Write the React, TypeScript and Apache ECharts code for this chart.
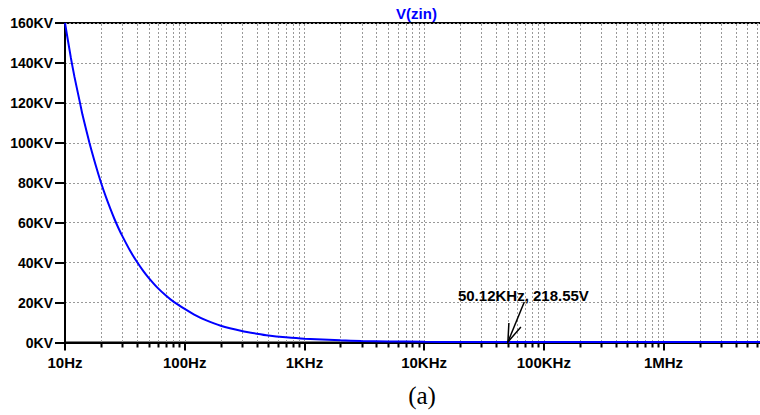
import React, { useEffect, useRef } from "react";
import * as echarts from "echarts";

// Frequency sweep (Hz) and |V(zin)| (V)
const freqs = [10, 11.2, 12, 13.4, 14, 16, 18, 20, 22, 24, 26, 28, 30, 35, 40, 45, 50, 60, 70, 80, 100, 120, 150, 200, 300, 400, 500, 700, 1000, 2000, 3000, 5000, 10000, 20000, 50120, 100000, 1000000, 10000000];
const volts = [160000, 142500, 133000, 119500, 114000, 100000, 89000, 80000, 72800, 66800, 61600, 57200, 53500, 45900, 40300, 35900, 32400, 27100, 23400, 20600, 16800, 14000, 11200, 8400, 5750, 4400, 3500, 2600, 1900, 1100, 800, 550, 350, 260, 218.55, 210, 200, 200];

// Axis ticks
const xTickValues = [10, 100, 1000, 10000, 100000, 1000000, 10000000];
const xTickLabels = ["10Hz", "100Hz", "1KHz", "10KHz", "100KHz", "1MHz", ""];
const yTickValues = [0, 20000, 40000, 60000, 80000, 100000, 120000, 140000, 160000];
const yTickLabels = ["0KV", "20KV", "40KV", "60KV", "80KV", "100KV", "120KV", "140KV", "160KV"];

// Log grid: decade starts and multipliers within a decade
const decades = [10, 100, 1000, 10000, 100000, 1000000];
const multipliers = [1, 2, 3, 4, 5, 6, 7, 8, 9];

// Cursor annotation
const cursorFreq = 50120;
const cursorVolt = 218.55;
const cursorLabel = "50.12KHz, 218.55V";

const gridData: number[][] = [];
decades.forEach((d) => multipliers.forEach((m) => gridData.push([d * m, m === 1 ? 1 : 0])));

export default function App() {
  const ref = useRef<HTMLDivElement>(null);
  useEffect(() => {
    if (!ref.current) return;
    const chart = echarts.init(ref.current, null, { renderer: "svg" });
    const labelFont = "Liberation Sans";
    chart.setOption({
      animation: false,
      backgroundColor: "#fff",
      grid: {
        left: 65,
        top: 23,
        right: 16.8,
        bottom: 72.5,
        show: true,
        borderColor: "#000",
        borderWidth: 2,
        backgroundColor: "transparent",
      },
      xAxis: {
        type: "log",
        logBase: 10,
        min: 10,
        max: 10000000,
        splitNumber: 6,
        axisLine: { show: true, lineStyle: { color: "#000", width: 2 } },
        axisTick: { show: true, length: 8, lineStyle: { color: "#000", width: 2 } },
        axisLabel: {
          margin: 12,
          color: "#000",
          fontSize: 15,
          fontWeight: "bold",
          fontFamily: labelFont,
          formatter: (v: number) => {
            const i = xTickValues.findIndex((t) => Math.abs(Math.log10(t) - Math.log10(v)) < 1e-6);
            return i >= 0 ? xTickLabels[i] : "";
          },
        },
        splitLine: { show: false },
      },
      yAxis: {
        type: "value",
        min: 0,
        max: 160000,
        interval: 20000,
        axisLine: { show: true, lineStyle: { color: "#000", width: 2 } },
        axisTick: { show: true, length: 10, lineStyle: { color: "#000", width: 2 } },
        axisLabel: {
          margin: 12,
          color: "#000",
          fontSize: 14,
          fontWeight: "bold",
          fontFamily: labelFont,
          formatter: (v: number) => {
            const i = yTickValues.indexOf(v);
            return i >= 0 ? yTickLabels[i] : "";
          },
        },
        splitLine: { show: true, lineStyle: { color: "#999", width: 1, type: [2, 2] } },
      },
      graphic: [
        {
          type: "text",
          x: 416.5,
          y: 13,
          style: {
            text: "V(zin)",
            font: `bold 15px "${labelFont}"`,
            fill: "#0000ff",
            align: "center",
            verticalAlign: "middle",
          },
        },
        {
          type: "text",
          x: 422,
          y: 395,
          style: {
            text: "(a)",
            font: '25px "Liberation Serif"',
            fill: "#000",
            align: "center",
            verticalAlign: "middle",
          },
        },
      ],
      series: [
        {
          type: "custom",
          z: 1,
          clip: false,
          silent: true,
          data: gridData,
          renderItem: (params: any, api: any) => {
            const p = api.coord([api.value(0), 0]);
            const cs = params.coordSys;
            const x = Math.round(p[0]) + 0.5;
            const children: any[] = [];
            if (p[0] > cs.x + 2) {
              children.push({
                type: "line",
                shape: { x1: x, y1: cs.y + 1, x2: x, y2: cs.y + cs.height },
                style: { stroke: "#999", lineWidth: 1, lineDash: [2, 2] },
              });
            }
            if (api.value(1) === 0) {
              children.push({
                type: "line",
                shape: { x1: x, y1: cs.y + cs.height, x2: x, y2: cs.y + cs.height + 5 },
                style: { stroke: "#000", lineWidth: 2 },
              });
            }
            return { type: "group", children };
          },
        },
        {
          type: "line",
          z: 3,
          data: freqs.map((f, i) => [f, volts[i]]),
          showSymbol: false,
          smooth: 0.2,
          lineStyle: { color: "#0000ff", width: 2 },
        },
        {
          type: "custom",
          z: 4,
          clip: false,
          silent: true,
          data: [[cursorFreq, cursorVolt]],
          renderItem: (params: any, api: any) => {
            const p = api.coord([api.value(0), api.value(1)]);
            const x = p[0];
            const y = p[1];
            return {
              type: "group",
              children: [
                {
                  type: "text",
                  x: x + 15.5,
                  y: y - 46.5,
                  style: {
                    text: cursorLabel,
                    font: `bold 15px "${labelFont}"`,
                    fill: "#000",
                    align: "center",
                    verticalAlign: "middle",
                  },
                },
                {
                  type: "line",
                  shape: { x1: x + 16.4, y1: y - 40, x2: x, y2: y },
                  style: { stroke: "#000", lineWidth: 1.5 },
                },
                {
                  type: "polyline",
                  shape: { points: [[x + 13, y - 15], [x, y], [x + 1, y - 19]] },
                  style: { stroke: "#000", fill: "none", lineWidth: 1.5 },
                },
              ],
            };
          },
        },
      ],
    });
    return () => chart.dispose();
  }, []);
  return (
    <div style={{ position: "absolute", left: 0, top: 0, width: 760, height: 415, overflow: "hidden" }}>
      <div ref={ref} style={{ width: 800, height: 415 }} />
    </div>
  );
}
